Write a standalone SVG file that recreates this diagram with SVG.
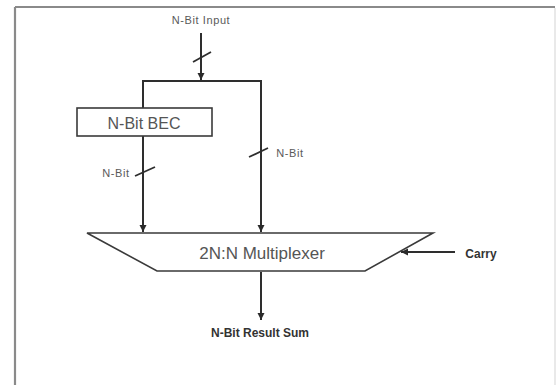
<svg xmlns="http://www.w3.org/2000/svg" width="559" height="385" viewBox="0 0 559 385">
<defs>
<marker id="ah" markerWidth="8" markerHeight="8" refX="7" refY="4" orient="auto" markerUnits="userSpaceOnUse">
<path d="M0,0.5 L7,4 L0,7.5 Z" fill="#2a2a2a"/>
</marker>
</defs>
<style>
.ln{stroke:#2e2e2e;stroke-width:2;fill:none}
.sl{stroke:#2e2e2e;stroke-width:1.8;fill:none}
.box{stroke:#3a3a3a;stroke-width:1.6;fill:#fff}
.t{font-family:"Liberation Sans",Arial,sans-serif;text-anchor:middle;dominant-baseline:central}
.big{font-size:16px;fill:#555}
.sm{font-size:11px;fill:#5a5a5a;letter-spacing:0.6px}
.bd{font-size:12px;font-weight:bold;fill:#333}
</style>
<rect width="559" height="385" fill="#fff"/>
<g id="frame">
<line x1="15" y1="7" x2="555" y2="7" stroke="#8a8a8a" stroke-width="2.2"/>
<line x1="15" y1="7" x2="15" y2="385" stroke="#8a8a8a" stroke-width="2.2"/>
<line x1="555" y1="8" x2="555" y2="385" stroke="#e2e2e2" stroke-width="1.5"/>
</g>
<g id="connectors">
<line class="ln" x1="201" y1="33" x2="201" y2="80" marker-end="url(#ah)"/>
<line class="sl" x1="193" y1="62" x2="211" y2="52"/>
<polyline class="ln" points="143,108 143,81 261,81 261,232" marker-end="url(#ah)"/>
<line class="sl" x1="249" y1="157" x2="268" y2="148"/>
<line class="ln" x1="143" y1="136" x2="143" y2="232" marker-end="url(#ah)"/>
<line class="sl" x1="135" y1="176" x2="155" y2="167"/>
<line class="ln" x1="455" y1="252" x2="401" y2="252" marker-end="url(#ah)"/>
<line class="ln" x1="261" y1="272" x2="261" y2="320" marker-end="url(#ah)"/>
</g>
<g id="input-label"><text class="t sm" x="201" y="20">N-Bit Input</text></g>
<g id="bec">
<rect class="box" x="77" y="108" width="135" height="28"/>
<text class="t big" x="144" y="123">N-Bit BEC</text>
</g>
<g id="label-left"><text class="t sm" x="116" y="173">N-Bit</text></g>
<g id="label-right"><text class="t sm" x="290" y="153">N-Bit</text></g>
<g id="mux">
<polygon class="box" points="87,233 433,233 365,271 157,271"/>
<text class="t big" x="262" y="253" style="font-size:17px">2N:N Multiplexer</text>
</g>
<g id="carry"><text class="t bd" x="481" y="254">Carry</text></g>
<g id="result"><text class="t bd" x="260" y="333">N-Bit Result Sum</text></g>
</svg>
